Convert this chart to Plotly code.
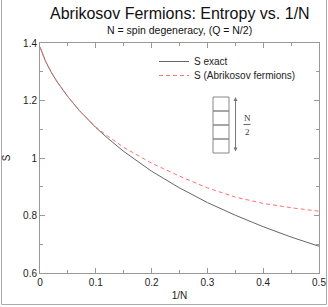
import plotly.graph_objects as go

# 1/N values and entropies
inv_n = [0.0, 0.01, 0.02, 0.03, 0.05, 0.07, 0.10, 0.12, 0.15, 0.20, 0.25, 0.30, 0.35, 0.40, 0.45, 0.50]
s_exact = [1.386, 1.336, 1.299, 1.267, 1.213, 1.166, 1.106, 1.071, 1.023, 0.954, 0.896, 0.845, 0.801, 0.761, 0.725, 0.693]
s_abrikosov = [1.386, 1.336, 1.299, 1.267, 1.213, 1.167, 1.108, 1.078, 1.037, 0.982, 0.937, 0.896, 0.864, 0.842, 0.827, 0.815]

x_ticks = [0, 0.1, 0.2, 0.3, 0.4, 0.5]
x_tick_labels = ["0", "0.1", "0.2", "0.3", "0.4", "0.5"]
y_ticks = [0.6, 0.8, 1.0, 1.2, 1.4]
y_tick_labels = ["0.6", "0.8", "1", "1.2", "1.4"]

W, H = 328, 307
L, R, T, B = 40, 9, 43, 34
pw, ph = W - L - R, H - T - B

def px(x):
    return (x - L) / pw

def py(y):
    return (H - B - y) / ph

fig = go.Figure()
fig.add_trace(go.Scatter(x=inv_n, y=s_exact, mode="lines", name="S exact",
                         line=dict(color="#666666", width=1), legend="legend"))
fig.add_trace(go.Scatter(x=inv_n, y=s_abrikosov, mode="lines", name="S (Abrikosov fermions)",
                         line=dict(color="#ff7070", width=1, dash="4px,3px"), legend="legend2"))

axis_common = dict(showgrid=False, zeroline=False, showline=True, linecolor="#999999",
                   linewidth=1, mirror="allticks", ticks="inside", ticklen=5,
                   tickcolor="#999999", tickfont=dict(size=10, color="#222222"))

fig.update_xaxes(range=[0, 0.5], tickvals=x_ticks, ticktext=x_tick_labels,
                 minor=dict(dtick=0.05, ticks="inside", ticklen=3, tickcolor="#999999"),
                 title=dict(text="1/N", font=dict(size=10, color="#222222"), standoff=4),
                 **axis_common)
fig.update_yaxes(range=[0.6, 1.4], tickvals=y_ticks, ticktext=y_tick_labels,
                 minor=dict(dtick=0.1, ticks="inside", ticklen=3, tickcolor="#999999"),
                 title=dict(text="S", font=dict(size=10, color="#222222"), standoff=10),
                 **axis_common)

shapes = []
# figure border (left, right, bottom)
for x0, y0, x1, y1 in [(1.5, 0, 1.5, 304.5), (326.5, 0, 326.5, 304.5), (1.5, 304.5, 326.5, 304.5)]:
    shapes.append(dict(type="line", xref="paper", yref="paper",
                       x0=px(x0), y0=py(y0), x1=px(x1), y1=py(y1),
                       line=dict(color="#aaaaaa", width=1)))
# stacked boxes diagram
bx0, bx1 = 213, 229
btop, bh = 97, 14
for i in range(4):
    shapes.append(dict(type="rect", xref="paper", yref="paper",
                       x0=px(bx0), x1=px(bx1), y0=py(btop + i * bh), y1=py(btop + (i + 1) * bh),
                       line=dict(color="#888888", width=1), fillcolor="rgba(0,0,0,0)"))
# fraction bar
shapes.append(dict(type="line", xref="paper", yref="paper",
                   x0=px(243.5), x1=px(250.5), y0=py(124.5), y1=py(124.5),
                   line=dict(color="#444444", width=0.8)))

annotations = [
    dict(text="Abrikosov Fermions: Entropy vs. 1/N", xref="paper", yref="paper",
         x=0.5, y=py(13), xanchor="center", yanchor="middle", showarrow=False,
         font=dict(size=16, color="#111111")),
    dict(text="N = spin degeneracy, (Q = N/2)", xref="paper", yref="paper",
         x=0.5, y=py(30), xanchor="center", yanchor="middle", showarrow=False,
         font=dict(size=10.5, color="#111111")),
    # double-headed arrow
    dict(xref="paper", yref="paper", axref="pixel", ayref="pixel",
         x=px(235.5), y=py(97), ax=0, ay=56, text="", showarrow=True,
         arrowhead=2, arrowside="end+start", arrowsize=0.8, arrowwidth=1, arrowcolor="#777777",
         standoff=0, startstandoff=0),
    dict(text="N", xref="paper", yref="paper", x=px(247), y=py(124), xanchor="center",
         yanchor="bottom", showarrow=False, borderpad=0,
         font=dict(family="Liberation Serif", size=9, color="#333333")),
    dict(text="2", xref="paper", yref="paper", x=px(247), y=py(126), xanchor="center",
         yanchor="top", showarrow=False, borderpad=0,
         font=dict(family="Liberation Serif", size=9, color="#333333")),
]

legend_common = dict(xanchor="left", yanchor="top", bgcolor="rgba(0,0,0,0)",
                     font=dict(size=10, color="#222222"))

fig.update_layout(
    width=W, height=H,
    margin=dict(l=L, r=R, t=T, b=B, autoexpand=False),
    paper_bgcolor="white", plot_bgcolor="white",
    font=dict(family="Liberation Sans, Arial, sans-serif", size=10, color="#222222"),
    showlegend=True,
    legend=dict(x=px(154), y=py(47), **legend_common),
    legend2=dict(x=px(154), y=py(61), **legend_common),
    shapes=shapes,
    annotations=annotations,
)

fig.write_html("out.html", config={"displayModeBar": False},
               post_script="document.body.style.margin='0px';")
